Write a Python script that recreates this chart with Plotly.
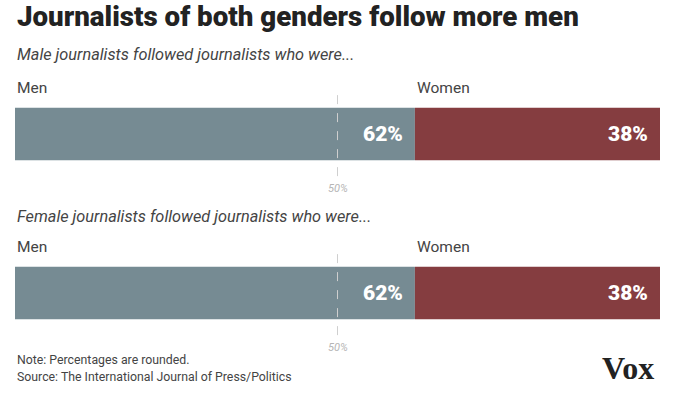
import plotly.graph_objects as go

groups = ["Male journalists followed journalists who were...",
          "Female journalists followed journalists who were..."]
men = [62, 62]
women = [38, 38]
categories = ["Men", "Women"]
midpoint = 50

GRAY = "#768b93"
RED = "#853d40"
ypos = [0, 1]

fig = go.Figure()
fig.add_trace(go.Bar(y=ypos, x=men, orientation="h", marker=dict(color=GRAY, line=dict(width=0)),
                     width=0.33, name=categories[0], hoverinfo="skip"))
fig.add_trace(go.Bar(y=ypos, x=women, base=men, orientation="h", marker=dict(color=RED, line=dict(width=0)),
                     width=0.33, name=categories[1], hoverinfo="skip"))

shapes = []
ann = []
FONT = "Roboto"
for i, y in enumerate(ypos):
    shapes.append(dict(type="line", xref="x", yref="y", x0=midpoint, x1=midpoint,
                       y0=y - 0.245, y1=y + 0.29, line=dict(color="#cfcfcf", width=1, dash="dash"),
                       layer="above"))
    ann.append(dict(x=midpoint, y=y + 0.34, xref="x", yref="y", text=f"<i>{midpoint}%</i>", showarrow=False,
                    font=dict(family=FONT, size=11, color="#b5b5b5"), xanchor="center", yanchor="middle"))
    ann.append(dict(x=0, y=y - 0.29, xref="x", yref="y", text=categories[0], showarrow=False,
                    font=dict(family=FONT, size=15.5, color="#444"), xanchor="left", yanchor="middle"))
    ann.append(dict(x=men[i], y=y - 0.29, xref="x", yref="y", text=categories[1], showarrow=False,
                    font=dict(family=FONT, size=15.5, color="#444"), xanchor="left", yanchor="middle"))
    ann.append(dict(x=men[i], y=y, xref="x", yref="y", text=f"{men[i]}%", showarrow=False,
                    xshift=-10, font=dict(family=FONT, size=21, weight=900, color="white"),
                    xanchor="right", yanchor="middle"))
    ann.append(dict(x=men[i] + women[i], y=y, xref="x", yref="y", text=f"{women[i]}%", showarrow=False,
                    xshift=-10, font=dict(family=FONT, size=21, weight=900, color="white"),
                    xanchor="right", yanchor="middle"))

ann.append(dict(x=0, y=1.0926, xref="paper", yref="paper", text=f"<i>{groups[0]}</i>", showarrow=False,
                font=dict(family=FONT, size=16.3, color="#444"), xanchor="left", yanchor="middle"))
ann.append(dict(x=0, y=0.516, xref="paper", yref="y", text=f"<i>{groups[1]}</i>", showarrow=False,
                font=dict(family=FONT, size=16.3, color="#444"), xanchor="left", yanchor="middle"))
ann.append(dict(x=0, y=1.235, xref="paper", yref="paper", text="Journalists of both genders follow more men",
                showarrow=False, font=dict(family=FONT, size=27.7, weight=900, color="#222"),
                xanchor="left", yanchor="middle"))
ann.append(dict(x=0, y=-0.037, xref="paper", yref="paper", text="Note: Percentages are rounded.",
                showarrow=False, font=dict(family=FONT, size=12.3, color="#444"), xanchor="left", yanchor="middle"))
ann.append(dict(x=0, y=-0.1, xref="paper", yref="paper", text="Source: The International Journal of Press/Politics",
                showarrow=False, font=dict(family=FONT, size=12.3, color="#444"), xanchor="left", yanchor="middle"))
ann.append(dict(x=0.95, y=-0.067, xref="paper", yref="paper", text="<b>Vox</b>",
                showarrow=False, font=dict(family="Liberation Serif", size=32, color="#222"), xanchor="center", yanchor="middle"))

fig.update_layout(
    width=696, height=399,
    margin=dict(l=15, r=36, t=80, b=49),
    paper_bgcolor="white", plot_bgcolor="white",
    barmode="overlay", showlegend=False,
    xaxis=dict(range=[0, 100], visible=False, fixedrange=True),
    yaxis=dict(range=[1.358, -0.34], visible=False, fixedrange=True),
    shapes=shapes, annotations=ann,
)
fig.write_html("out.html", config={"displayModeBar": False},
               post_script="document.body.style.margin='0';")
